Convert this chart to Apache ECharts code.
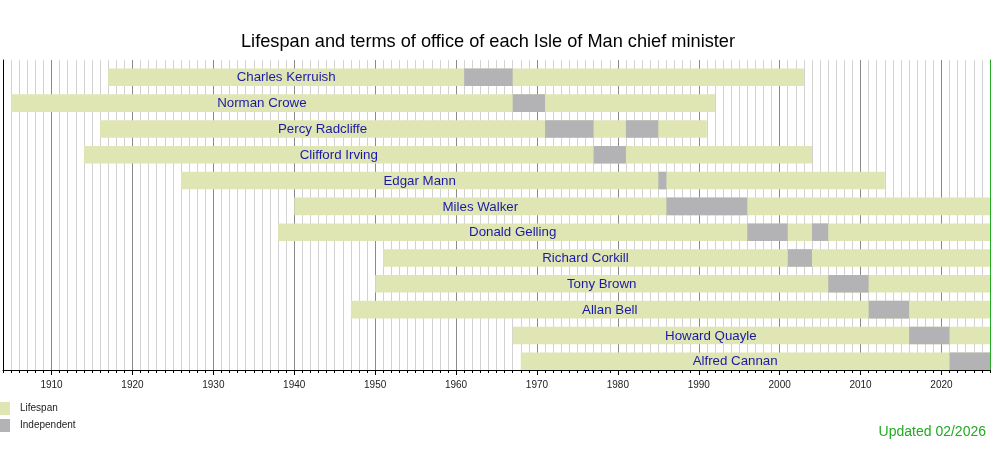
<!DOCTYPE html>
<html>
<head>
<meta charset="utf-8">
<script src="https://cdn.jsdelivr.net/npm/echarts@6/dist/echarts.min.js"></script>
<style>html,body{margin:0;padding:0;background:#fff}#main{width:1000px;height:450px}</style>
</head>
<body>
<div id="main"></div>
<script>
// chief ministers, top to bottom
var names = ['Charles Kerruish', 'Norman Crowe', 'Percy Radcliffe', 'Clifford Irving', 'Edgar Mann',
    'Miles Walker', 'Donald Gelling', 'Richard Corkill', 'Tony Brown', 'Allan Bell', 'Howard Quayle', 'Alfred Cannan'];
var born = [1917, 1905, 1916, 1914, 1926, 1940, 1938, 1951, 1950, 1947, 1967, 1968];
var died = [2003, 1992, 1991, 2004, 2013, 2026, 2026, 2026, 2026, 2026, 2026, 2026]; // 2026 = to date
// [row, from, to] terms of office as independent
var terms = [[0, 1961, 1967], [1, 1967, 1971], [2, 1971, 1977], [2, 1981, 1985], [3, 1977, 1981],
    [4, 1985, 1986], [5, 1986, 1996], [6, 1996, 2001], [6, 2004, 2006], [7, 2001, 2004],
    [8, 2006, 2011], [9, 2011, 2016], [10, 2016, 2021], [11, 2021, 2026]];
var tickYears = [1910, 1920, 1930, 1940, 1950, 1960, 1970, 1980, 1990, 2000, 2010, 2020];

var lifeColor = '#dfe5b3';
var indColor = '#b3b3b6';
var font = "'Liberation Sans', Arial, sans-serif";

var chart = echarts.init(document.getElementById('main'));

var lifeData = names.map(function (n, i) { return [i, born[i], died[i]]; });
var termData = terms.map(function (t) { return [t[0], t[1], t[2]]; });
// name sits in the middle of the part of the life before the first term
var labelData = names.map(function (n, i) {
    var first = terms.filter(function (t) { return t[0] === i; })[0];
    return [i, (born[i] + first[1]) / 2, n];
});

function barRenderer(color) {
    return function (params, api) {
        var row = api.value(0);
        var p0 = api.coord([api.value(1), row]);
        var p1 = api.coord([api.value(2), row]);
        var h = api.size([0, 0.68])[1];
        return {
            type: 'rect',
            shape: {x: p0[0], y: p0[1] - h / 2, width: p1[0] - p0[0], height: h},
            style: {fill: color}
        };
    };
}

// gridline colours cycle per year starting at 1904, darker on the decade
var gridColors = [];
for (var k = 0; k < 10; k++) gridColors.push(k === 6 ? '#8a8a8a' : '#d2d2d2');

var option = {
    animation: false,
    textStyle: {fontFamily: font},
    title: [{
        text: 'Lifespan and terms of office of each Isle of Man chief minister',
        left: 236, top: 28,
        textStyle: {fontSize: 18.2, fontWeight: 'normal', color: '#000', fontFamily: font}
    }, {
        text: 'Updated 02/2026',
        right: 9, top: 420,
        textStyle: {fontSize: 14, fontWeight: 'normal', color: '#22aa22', fontFamily: font}
    }],
    legend: {
        orient: 'vertical', left: 0, top: 402, padding: 0,
        itemWidth: 10, itemHeight: 13, itemGap: 4,
        selectedMode: false,
        textStyle: {fontSize: 10, color: '#222', padding: [0, 0, 0, 5]},
        data: [{name: 'Lifespan', icon: 'rect'}, {name: 'Independent', icon: 'rect'}]
    },
    grid: {left: 2, right: 10, top: 60, bottom: 80},
    xAxis: [{
        type: 'value', min: 1904, max: 2026, interval: 1,
        axisLine: {onZero: false, lineStyle: {color: '#000'}},
        axisTick: {length: 3, lineStyle: {color: '#000'}},
        axisLabel: {
            fontSize: 10, color: '#222', margin: 10,
            formatter: function (v) { return tickYears.indexOf(v) >= 0 ? String(v) : ''; }
        },
        splitLine: {show: true, lineStyle: {color: gridColors, width: 1}}
    }, {
        type: 'value', min: 1904, max: 2026, position: 'bottom',
        axisLine: {show: false, onZero: false},
        axisTick: {show: true, customValues: tickYears, length: 5, lineStyle: {color: '#000'}},
        axisLabel: {show: false},
        splitLine: {show: false}
    }],
    yAxis: [{
        type: 'value', inverse: true, min: -0.67, max: 11.34,
        axisLine: {show: true, onZero: false, lineStyle: {color: '#000'}},
        axisTick: {show: false}, axisLabel: {show: false}, splitLine: {show: false}
    }, {
        type: 'value', inverse: true, min: -0.67, max: 11.34, position: 'right',
        axisLine: {show: true, onZero: false, lineStyle: {color: '#22aa22'}},
        axisTick: {show: false}, axisLabel: {show: false}, splitLine: {show: false}
    }],
    series: [{
        name: 'Lifespan', type: 'custom',
        itemStyle: {color: lifeColor},
        renderItem: barRenderer(lifeColor),
        encode: {x: [1, 2], y: 0},
        data: lifeData
    }, {
        name: 'Independent', type: 'custom',
        itemStyle: {color: indColor},
        renderItem: barRenderer(indColor),
        encode: {x: [1, 2], y: 0},
        data: termData
    }, {
        name: 'names', type: 'custom',
        renderItem: function (params, api) {
            var p = api.coord([api.value(1), api.value(0)]);
            return {
                type: 'text',
                x: p[0], y: p[1] + 0.5,
                style: {
                    text: labelData[params.dataIndex][2],
                    fill: '#1a1aaa', font: '13.3px ' + font,
                    align: 'center', verticalAlign: 'middle'
                }
            };
        },
        encode: {x: 1, y: 0},
        data: labelData
    }]
};

chart.setOption(option);
</script>
</body>
</html>
